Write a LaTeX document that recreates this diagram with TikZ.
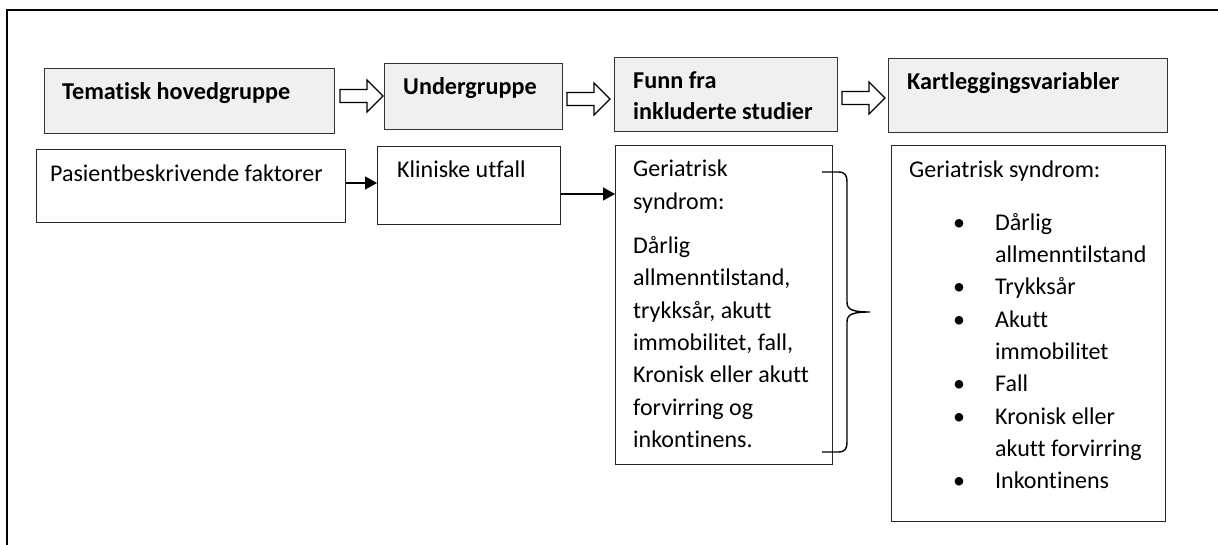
\documentclass[tikz,border=0pt]{standalone}
\usepackage{fontspec}
\setmainfont[Ligatures=NoCommon]{Carlito}
\usetikzlibrary{arrows.meta}
\begin{document}
\begin{tikzpicture}[x=1pt,y=-1pt,
  headbox/.style={draw=black!80,line width=1pt,fill=black!6,inner sep=0pt,anchor=north west},
  plainbox/.style={draw=black!85,line width=0.9pt,fill=white,inner sep=0pt,anchor=north west},
  txt/.style={inner sep=0pt,anchor=base west,font=\fontsize{24}{32.3}\selectfont},
  btxt/.style={txt,font=\fontsize{24.2}{31}\selectfont\bfseries},
  link/.style={line width=1.3pt,-{Triangle[length=12pt,width=13pt]}},
  hollow/.pic={\draw[line width=1.1pt,fill=white]
      (0,-6.5) -- (27,-6.5) -- (27,-16) -- (43,0) -- (27,16) -- (27,6.5) -- (0,6.5) -- cycle;}
]
\useasboundingbox (0,0) rectangle (1218,545);

% frame along the top and left edges
\draw[line width=2.2pt] (7,545) -- (7,10) -- (1218,10);

% header row
\node[headbox,minimum width=290pt,minimum height=65pt] (h1) at (44,68) {};
\node[headbox,minimum width=178pt,minimum height=66pt] (h2) at (384,63) {};
\node[headbox,minimum width=223pt,minimum height=74pt] (h3) at (614,57) {};
\node[headbox,minimum width=279pt,minimum height=74pt] (h4) at (888,58) {};

\node[btxt] (h1t) at (62,100) {Tematisk hovedgruppe};
\node[btxt] (h2t) at (403,95) {Undergruppe};
\node[btxt] (h3t) at (633,89) {\begin{minipage}[t]{210pt}Funn fra\\inkluderte studier\end{minipage}};
\node[btxt] (h4t) at (907,90) {Kartleggingsvariabler};

% hollow block arrows between the header boxes
\pic at (340,96) {hollow};
\pic at (567,99) {hollow};
\pic at (842,98) {hollow};

% content row
\node[plainbox,minimum width=309pt,minimum height=73pt] (b5) at (36,149) {};
\node[plainbox,minimum width=183pt,minimum height=78pt] (b6) at (377,146) {};
\node[plainbox,minimum width=217pt,minimum height=319pt] (b7) at (615,145) {};
\node[plainbox,minimum width=274pt,minimum height=376pt] (b8) at (891,145) {};

\node[txt] (b5t) at (50,182) {Pasientbeskrivende faktorer};
\node[txt] (b6t) at (397,178) {Kliniske utfall};
\node[txt] (b7t) at (633,177) {\begin{minipage}[t]{195pt}\raggedright
Geriatrisk\\syndrom:\\[12pt]
Dårlig\\allmenntilstand,\\trykksår, akutt\\immobilitet, fall,\\Kronisk eller akutt\\forvirring og\\inkontinens.\end{minipage}};
\node[txt] (b8t) at (909,178) {\begin{minipage}[t]{250pt}\raggedright
Geriatrisk syndrom:\\[20pt]
\makebox[86pt][l]{\hspace{44pt}•}Dårlig\\
\hspace*{86pt}allmenntilstand\\
\makebox[86pt][l]{\hspace{44pt}•}Trykksår\\
\makebox[86pt][l]{\hspace{44pt}•}Akutt\\
\hspace*{86pt}immobilitet\\
\makebox[86pt][l]{\hspace{44pt}•}Fall\\
\makebox[86pt][l]{\hspace{44pt}•}Kronisk eller\\
\hspace*{86pt}akutt forvirring\\
\makebox[86pt][l]{\hspace{44pt}•}Inkontinens\end{minipage}};

% connectors
\coordinate (r1) at (0,183);
\coordinate (r2) at (0,194);
\draw[link] (b5.east |- r1) -- (b6.west |- r1);
\draw[link] (b6.east |- r2) -- (b7.west |- r2);

% curly brace gathering the findings
\draw[line width=1.4pt]
  (822,172) -- (838,172) .. controls (845,172) and (847,175) .. (847,182)
  -- (847,302) .. controls (847,309) and (851,312) .. (870,312)
  .. controls (851,312) and (847,315) .. (847,322)
  -- (847,442) .. controls (847,449) and (845,452) .. (838,452) -- (822,452);
\end{tikzpicture}
\end{document}
